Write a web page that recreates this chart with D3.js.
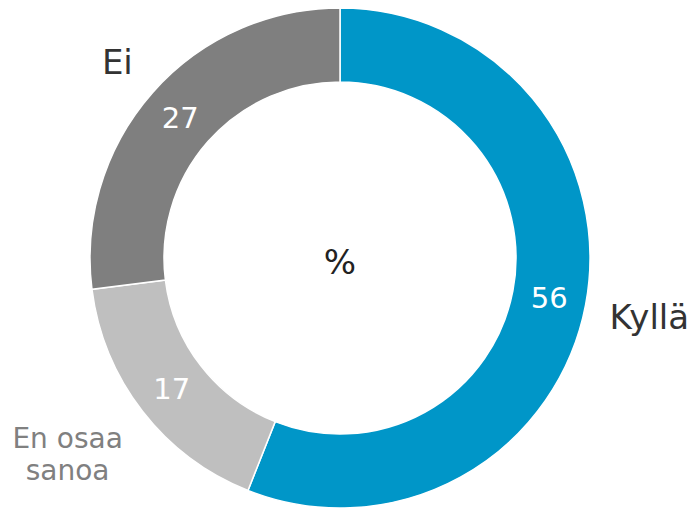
<!DOCTYPE html>
<html>
<head>
<meta charset="utf-8">
<script src="https://cdn.jsdelivr.net/npm/d3@7"></script>
<style>
  html, body { margin: 0; padding: 0; background: #fff; }
  svg { display: block; font-family: "DejaVu Sans", Verdana, sans-serif; }
</style>
</head>
<body>
<svg id="chart"></svg>
<script>
// data
const categories = ["Kyllä", "En osaa sanoa", "Ei"];
const values = [56, 17, 27];
const sliceColors = ["#0096C8", "#BFBFBF", "#7F7F7F"];
const labelColors = ["#333333", "#808080", "#333333"];
const centerLabel = "%";

const width = 698, height = 508;
const cx = 340, cy = 258;
const outerR = 250, innerR = 176;

const svg = d3.select("#chart").attr("width", width).attr("height", height);
const g = svg.append("g").attr("transform", `translate(${cx}, ${cy})`);

const data = categories.map((c, i) => ({ name: c, value: values[i], color: sliceColors[i], labelColor: labelColors[i] }));

const pie = d3.pie().sort(null).value(d => d.value);
const arc = d3.arc().innerRadius(innerR).outerRadius(outerR);
const arcs = pie(data);

// slices
g.selectAll(".slice")
  .data(arcs)
  .enter()
  .append("path")
  .attr("class", "slice")
  .attr("d", arc)
  .attr("fill", d => d.data.color)
  .attr("stroke", "#fff")
  .attr("stroke-width", 1.5);

// values inside the ring
g.selectAll(".val")
  .data(arcs)
  .enter()
  .append("text")
  .attr("class", "val")
  .attr("transform", d => `translate(${arc.centroid(d)})`)
  .attr("text-anchor", "middle")
  .attr("dy", "0.36em")
  .attr("fill", "#fff")
  .attr("font-size", "29px")
  .text(d => d.data.value);

// center label
g.append("text")
  .attr("x", 0)
  .attr("y", 4)
  .attr("text-anchor", "middle")
  .attr("dy", "0.36em")
  .attr("fill", "#222")
  .attr("font-size", "34px")
  .text(centerLabel);

// outer category labels
arcs.forEach(d => {
  const words = d.data.name.split(" ");
  const lines = words.length > 2 ? [words.slice(0, 2).join(" "), words.slice(2).join(" ")] : [d.data.name];
  const multi = lines.length > 1;
  const fs = multi ? 28 : 34;
  const t = g.append("text")
    .attr("text-anchor", "middle")
    .attr("fill", d.data.labelColor)
    .attr("font-size", fs + "px");
  lines.forEach((l, i) => {
    t.append("tspan").attr("x", 0).attr("dy", i === 0 ? 0 : "1.15em").text(l);
  });
  const bb = t.node().getBBox();
  // wrapped labels sit a little further round the ring
  const mid = (d.startAngle + d.endAngle) / 2 + (multi ? 0.035 : 0);
  const s = Math.sin(mid), c = -Math.cos(mid);
  const r = outerR + 22 + bb.width / 2 * Math.abs(s) + bb.height / 2 * Math.abs(c);
  const tx = r * s, ty = r * c;
  // shift so the bbox center lands on (tx, ty)
  const bcx = bb.x + bb.width / 2, bcy = bb.y + bb.height / 2;
  t.attr("transform", `translate(${tx - bcx}, ${ty - bcy})`);
});
</script>
</body>
</html>
